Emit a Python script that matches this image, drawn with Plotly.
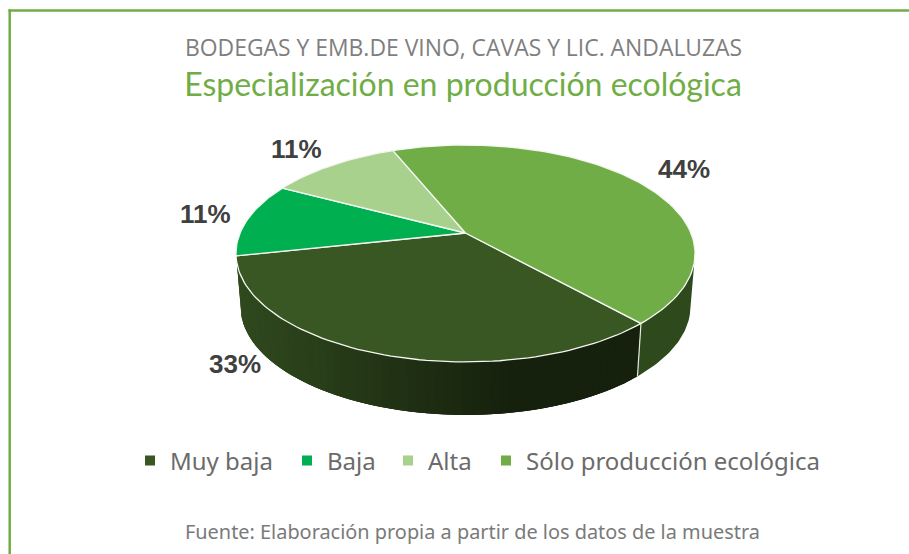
import math
import plotly.graph_objects as go

# ---- data ----
categories = ["Muy baja", "Baja", "Alta", "Sólo producción ecológica"]
values = [33.3, 11.1, 11.1, 44.5]
top_colors = ["#385723", "#00B050", "#A9D18E", "#70AD47"]

# ---- geometry of the tilted disc (pixels on a 909x554 canvas) ----
CX, CY = 465.5, 233.0
R, K, P = 225.4, 104.6, 0.189
DEPTH, BOTTOM_SCALE = 53.0, 0.98
START = 138.0


def rim(angle, r=1.0):
    t = math.radians(angle)
    u, v = r * math.sin(t), -r * math.cos(t)
    s = 1.0 / (1.0 - P * v)
    return CX + R * u * s, CY + K * v * s


def low(angle):
    x, y = rim(angle)
    return CX + (x - CX) * BOTTOM_SCALE, y + DEPTH


def lerp_hex(a, b, f):
    pa = [int(a[i:i + 2], 16) for i in (1, 3, 5)]
    pb = [int(b[i:i + 2], 16) for i in (1, 3, 5)]
    return "#%02x%02x%02x" % tuple(round(p + (q - p) * f) for p, q in zip(pa, pb))


total = sum(values)
spans = []
a = START
for val in values:
    b = a + val / total * 360.0
    spans.append((a, b))
    a = b

fig = go.Figure()


def poly(xs, ys, fill, line=None, width=0.0):
    fig.add_trace(go.Scatter(
        x=xs, y=ys, mode="lines", fill="toself", fillcolor=fill,
        line=dict(color=line or fill, width=width),
        hoverinfo="skip", showlegend=False,
    ))


def wall(p, q, col, steps=30):
    pts = [p + (q - p) * i / steps for i in range(steps + 1)]
    top = [rim(t) for t in pts]
    bot = [low(t) for t in pts]
    poly([c[0] for c in top] + [c[0] for c in reversed(bot)],
         [c[1] for c in top] + [c[1] for c in reversed(bot)], col)


# side wall: Sólo producción (right part), flat colour
wall(105.0, spans[3][1] - 360.0, "#2E4A1D")

# side wall: Muy baja, shaded in strips from dark (right) to lighter (left);
# each strip overlaps the next so no seam shows
a1, a2 = spans[0][0], 254.0
n = 60
for i in range(n):
    p = a1 + (a2 - a1) * i / n
    q = a1 + (a2 - a1) * min(n, i + 3) / n
    xm = (rim(p)[0] + rim(a1 + (a2 - a1) * (i + 1) / n)[0]) / 2
    f = min(1.0, max(0.0, (xm - 237.0) / (510.0 - 237.0)))
    wall(p, q, lerp_hex("#30491E", "#16210D", f), steps=4)

# seam between the two side walls
sx, sy = rim(spans[0][0])
lx, ly = low(spans[0][0])
fig.add_trace(go.Scatter(x=[sx, lx], y=[sy, ly], mode="lines",
                         line=dict(color="#E4E8E0", width=1.2),
                         hoverinfo="skip", showlegend=False))

# top face
for (s, e), col in zip(spans, top_colors):
    m = max(8, int((e - s) / 1.5))
    ring = [rim(s + (e - s) * i / m) for i in range(m + 1)]
    xs = [CX] + [p[0] for p in ring] + [CX]
    ys = [CY] + [p[1] for p in ring] + [CY]
    poly(xs, ys, col, "#F4F6F1", 1.3)

# one legend per entry so that each can sit at its own horizontal position
legend_left = [130, 287, 388, 486]
legend_layout = {}
for i, (name, col, left) in enumerate(zip(categories, top_colors, legend_left)):
    key = "legend" if i == 0 else f"legend{i + 1}"
    fig.add_trace(go.Scatter(x=[None], y=[None], mode="markers", name=name, legend=key,
                             marker=dict(symbol="square", size=10, color=col),
                             hoverinfo="skip"))
    legend_layout[key] = dict(
        orientation="h", x=left / 909, xanchor="left", y=1 - 461 / 554, yanchor="middle",
        font=dict(family="Noto Sans", size=24, color="#6B6B6B"),
        bgcolor="rgba(0,0,0,0)", itemclick=False, itemdoubleclick=False,
    )

# percentage labels: anchors are layout positions, text comes from values
label_anchor = [(234.5, 364), (205, 214), (296, 149), (684, 169)]
for val, (lx_, ly_) in zip(values, label_anchor):
    fig.add_annotation(x=lx_, y=ly_, xref="x", yref="y", showarrow=False,
                       text=f"{round(val)}%",
                       font=dict(family="Liberation Sans", size=26, color="#404040", weight="bold"))

fig.add_annotation(x=463, y=47, xref="x", yref="y", showarrow=False,
                   text="BODEGAS Y EMB.DE VINO, CAVAS Y LIC. ANDALUZAS",
                   font=dict(family="Open Sans", size=22.9, color="#7F7F7F"))
fig.add_annotation(x=472.5, y=531, xref="x", yref="y", showarrow=False,
                   text="Fuente: Elaboración propia a partir de los datos de la muestra",
                   font=dict(family="Noto Sans", size=19.9, color="#7A7A7A"))

fig.update_layout(
    width=909, height=554,
    margin=dict(l=0, r=0, t=0, b=0),
    paper_bgcolor="white", plot_bgcolor="white",
    title=dict(text="Especialización en producción ecológica",
               font=dict(family="Lato", size=32, color="#70AD47"),
               x=463 / 909, xanchor="center", xref="paper",
               y=1 - 85 / 554, yanchor="middle", yref="container"),
    xaxis=dict(range=[0, 909], visible=False, fixedrange=True),
    yaxis=dict(range=[554, 0], visible=False, fixedrange=True),
    showlegend=True,
    shapes=[
        dict(type="line", xref="x", yref="y", x0=9.7, x1=9.7, y0=9.3, y1=554,
             line=dict(color="#70AD47", width=2.5)),
        dict(type="line", xref="x", yref="y", x0=8.5, x1=909, y0=10.5, y1=10.5,
             line=dict(color="#70AD47", width=2.5)),
    ],
    **legend_layout,
)

fig.write_html("out.html", config={"displayModeBar": False},
               post_script="document.body.style.margin='0';document.body.style.overflow='hidden';")
